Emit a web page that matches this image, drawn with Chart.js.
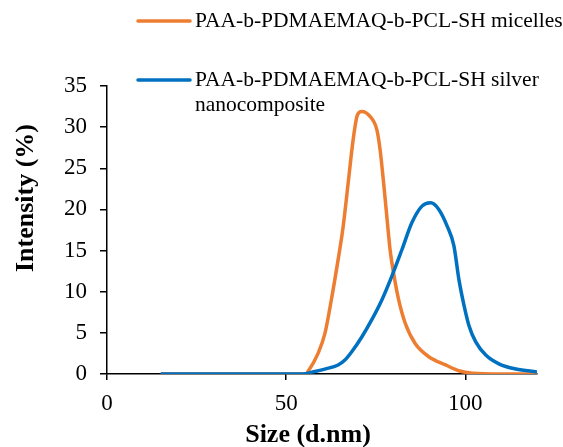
<!DOCTYPE html>
<html>
<head>
<meta charset="utf-8">
<script src="https://cdn.jsdelivr.net/npm/chart.js@4/dist/chart.umd.min.js"></script>
<style>
html,body{margin:0;padding:0;background:#fff;}
#wrap{width:563px;height:447px;position:relative;}
</style>
</head>
<body>
<div id="wrap"><canvas id="c" width="563" height="447"></canvas></div>
<script>
// ---- data ----
const seriesLabels = [
  ["PAA-b-PDMAEMAQ-b-PCL-SH micelles"],
  ["PAA-b-PDMAEMAQ-b-PCL-SH silver", "nanocomposite"]
];
const micellesSize = [15, 30, 45, 55.5, 56.1, 58.9, 60.8, 62.6, 64.5, 65.9, 67.3, 68.7, 69.9, 71.1, 73.4, 75.3, 76.2, 77.2, 78.1, 79.0, 80.0, 81.4, 83.2, 86.0, 89.8, 94.5, 98.2, 102, 110, 120];
const micellesIntensity = [0, 0, 0, 0, 0.3, 2.5, 4.9, 9.0, 13.9, 17.9, 23.2, 28.5, 31.5, 31.9, 31.3, 29.7, 27.3, 23.2, 19.1, 15.1, 12.2, 9.0, 6.2, 3.7, 2.1, 1.1, 0.4, 0.1, 0, 0];
const silverSize = [15, 30, 45, 54.2, 58.0, 60.8, 64.5, 66.4, 68.3, 71.1, 73.9, 76.7, 79.5, 82.3, 85.1, 87.9, 90.3, 92.6, 94.9, 96.8, 98.2, 99.6, 101.0, 102.9, 105.7, 109.5, 114.1, 120];
const silverIntensity = [0, 0, 0, 0, 0.3, 0.6, 1.1, 1.7, 2.7, 4.5, 6.6, 9.0, 11.9, 15.1, 18.4, 20.4, 20.8, 20.0, 18.0, 15.6, 11.5, 8.4, 5.9, 3.9, 2.3, 1.2, 0.6, 0.25];
const xTicks = [0, 50, 100];
const yTicks = [0, 5, 10, 15, 20, 25, 30, 35];
const xTitle = "Size (d.nm)";
const yTitle = "Intensity (%)";

const ORANGE = "#ED7D31";
const BLUE = "#0070C0";
const FONT = "'Liberation Serif', 'Times New Roman', serif";

function pts(xs, ys){ return xs.map((x,i)=>({x:x, y:ys[i]})); }

const customDraw = {
  id: 'customDraw',
  afterDraw(chart){
    const ctx = chart.ctx;
    ctx.save();
    // legend
    const items = [
      {color: ORANGE, lines: seriesLabels[0], y: 21},
      {color: BLUE, lines: seriesLabels[1], y: 80}
    ];
    ctx.font = "21.5px " + FONT;
    ctx.textBaseline = "middle";
    ctx.textAlign = "left";
    items.forEach(it=>{
      ctx.strokeStyle = it.color;
      ctx.lineWidth = 3.5;
      ctx.lineCap = "round";
      ctx.beginPath(); ctx.moveTo(138, it.y); ctx.lineTo(190, it.y); ctx.stroke();
      ctx.fillStyle = "#000";
      it.lines.forEach((t,i)=> ctx.fillText(t, 195, it.y + i*25));
    });
    // axis titles
    ctx.font = "bold 26px " + FONT;
    ctx.textAlign = "center";
    ctx.fillText(xTitle, 308, 435);
    ctx.translate(26, 198);
    ctx.rotate(-Math.PI/2);
    ctx.fillText(yTitle, 0, 0);
    ctx.restore();
  }
};

new Chart(document.getElementById('c'), {
  type: 'scatter',
  data: {
    datasets: [
      {label: seriesLabels[0].join(' '), data: pts(micellesSize, micellesIntensity), showLine: true,
       borderColor: ORANGE, borderWidth: 3.5, pointRadius: 0, cubicInterpolationMode: 'monotone', order: 2},
      {label: seriesLabels[1].join(' '), data: pts(silverSize, silverIntensity), showLine: true,
       borderColor: BLUE, borderWidth: 3.5, pointRadius: 0, cubicInterpolationMode: 'monotone', order: 1}
    ]
  },
  options: {
    responsive: false,
    animation: false,
    devicePixelRatio: 1,
    layout: {padding: {top: 86, right: 26, left: 0, bottom: 0}},
    plugins: {legend: {display: false}, tooltip: {enabled: false}},
    scales: {
      x: {
        type: 'linear', min: 0, max: 120,
        afterBuildTicks: s => { s.ticks = xTicks.map(v=>({value:v})); },
        afterFit: s => { s.height = 73; },
        grid: {display: true, drawOnChartArea: false, drawTicks: true, tickLength: 6, color: '#000', lineWidth: 1.5},
        border: {display: true, color: '#000', width: 1.5},
        ticks: {color: '#000', font: {family: FONT, size: 23}, padding: 10}
      },
      y: {
        type: 'linear', min: 0, max: 35,
        afterBuildTicks: s => { s.ticks = yTicks.map(v=>({value:v})); },
        afterFit: s => { s.width = 107; },
        grid: {display: true, drawOnChartArea: false, drawTicks: true, tickLength: 7, color: '#000', lineWidth: 1.5},
        border: {display: true, color: '#000', width: 1.5},
        ticks: {color: '#000', font: {family: FONT, size: 23}, padding: 13}
      }
    }
  },
  plugins: [customDraw]
});
</script>
</body>
</html>
